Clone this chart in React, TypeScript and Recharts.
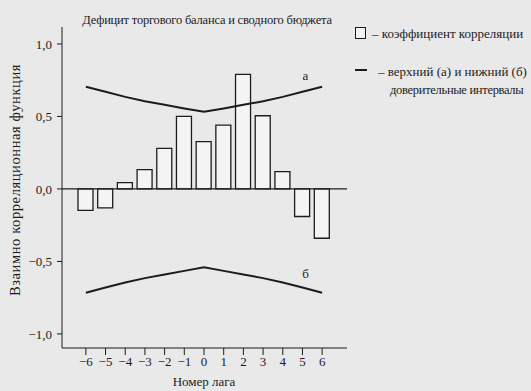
import React from "react"
import {
  ComposedChart,
  Bar,
  Line,
  XAxis,
  YAxis,
  ReferenceLine,
  ReferenceArea,
  LabelList,
} from "recharts"

const lags = ["−6", "−5", "−4", "−3", "−2", "−1", "0", "1", "2", "3", "4", "5", "6"]
const corr = [-0.148, -0.13, 0.044, 0.133, 0.28, 0.5, 0.326, 0.44, 0.79, 0.505, 0.12, -0.19, -0.34]
const upper = [0.705, 0.67, 0.635, 0.605, 0.58, 0.555, 0.533, 0.555, 0.58, 0.605, 0.635, 0.67, 0.705]
const lower = [-0.716, -0.68, -0.645, -0.615, -0.59, -0.565, -0.54, -0.565, -0.59, -0.615, -0.645, -0.68, -0.716]
const yTicks = [1, 0.5, 0, -0.5, -1]

const title = "Дефицит торгового баланса и сводного бюджета"
const yLabel = "Взаимно корреляционная функция"
const xLabel = "Номер лага"
const legendBars = "– коэффициент корреляции"
const legendLines1 = "– верхний (а) и нижний (б)"
const legendLines2 = "доверительные интервалы"

const data = lags.map((lag, i) => ({
  lag,
  corr: corr[i],
  upper: upper[i],
  lower: lower[i],
}))

const FONT = "'Liberation Serif', 'Times New Roman', serif"
const INK = "#1c1c1c"
const BG = "#e9e9e9"

const fmt = (v: number) => (v < 0 ? "−" : "") + Math.abs(v).toFixed(1).replace(".", ",")

const markAt = (text: string, at: number, dy: number) => (props: any) =>
  props.index === at ? (
    <text
      x={props.x + 3}
      y={props.y + dy}
      textAnchor="middle"
      fontFamily={FONT}
      fontSize={13}
      fill={INK}
    >
      {text}
    </text>
  ) : null

export default function App() {
  const txt: React.CSSProperties = {
    position: "absolute",
    fontFamily: FONT,
    fontSize: 13,
    color: INK,
    whiteSpace: "nowrap",
    lineHeight: "16px",
  }
  return (
    <div
      style={{
        position: "absolute",
        left: 0,
        top: 0,
        width: 531,
        height: 391,
        background: BG,
        overflow: "hidden",
      }}
    >
      <ComposedChart
        width={531}
        height={391}
        data={data}
        margin={{ top: 27, right: 184, bottom: 0, left: 0 }}
      >
        <XAxis
          dataKey="lag"
          height={43}
          padding={{ left: 14, right: 15 }}
          interval={0}
          tickSize={7}
          tickMargin={2}
          stroke={INK}
          tick={{ fill: INK, fontSize: 13, fontFamily: FONT }}
        />
        <YAxis
          width={62}
          type="number"
          domain={[-1.097, 1.117]}
          ticks={yTicks}
          allowDataOverflow
          tickFormatter={fmt}
          tickSize={5}
          tickMargin={5}
          stroke={INK}
          tick={{ fill: INK, fontSize: 13, fontFamily: FONT }}
        />
        <ReferenceArea fill="none" stroke={INK} strokeWidth={1.3} />
        <ReferenceLine y={0} stroke={INK} strokeWidth={1.3} />
        <Bar
          dataKey="corr"
          barSize={15}
          fill="#f4f4f4"
          stroke={INK}
          strokeWidth={1.3}
          isAnimationActive={false}
        />
        <Line
          dataKey="upper"
          type="linear"
          stroke={INK}
          strokeWidth={2}
          dot={false}
          isAnimationActive={false}
        >
          <LabelList content={markAt("а", 11, -12)} />
        </Line>
        <Line
          dataKey="lower"
          type="linear"
          stroke={INK}
          strokeWidth={2}
          dot={false}
          isAnimationActive={false}
        >
          <LabelList content={markAt("б", 11, -10)} />
        </Line>
      </ComposedChart>

      <div
        style={{
          ...txt,
          fontSize: 12.5,
          letterSpacing: -0.2,
          left: 207,
          top: 12,
          transform: "translateX(-50%)",
        }}
      >
        {title}
      </div>
      <div style={{ ...txt, left: 204, top: 374, transform: "translateX(-50%)" }}>{xLabel}</div>
      <div
        style={{
          ...txt,
          fontSize: 14.5,
          letterSpacing: 0.6,
          left: 15,
          top: 180,
          transform: "translate(-50%, -50%) rotate(-90deg)",
        }}
      >
        {yLabel}
      </div>

      <div
        style={{
          position: "absolute",
          left: 355,
          top: 27,
          width: 9,
          height: 10,
          border: `1.3px solid ${INK}`,
          background: "#f4f4f4",
        }}
      />
      <div style={{ ...txt, left: 372, top: 26 }}>{legendBars}</div>
      <div
        style={{
          position: "absolute",
          left: 355,
          top: 69,
          width: 12,
          height: 2,
          background: INK,
        }}
      />
      <div style={{ ...txt, left: 378, top: 64 }}>{legendLines1}</div>
      <div style={{ ...txt, fontSize: 12.5, letterSpacing: -0.3, left: 390, top: 82 }}>
        {legendLines2}
      </div>
    </div>
  )
}
